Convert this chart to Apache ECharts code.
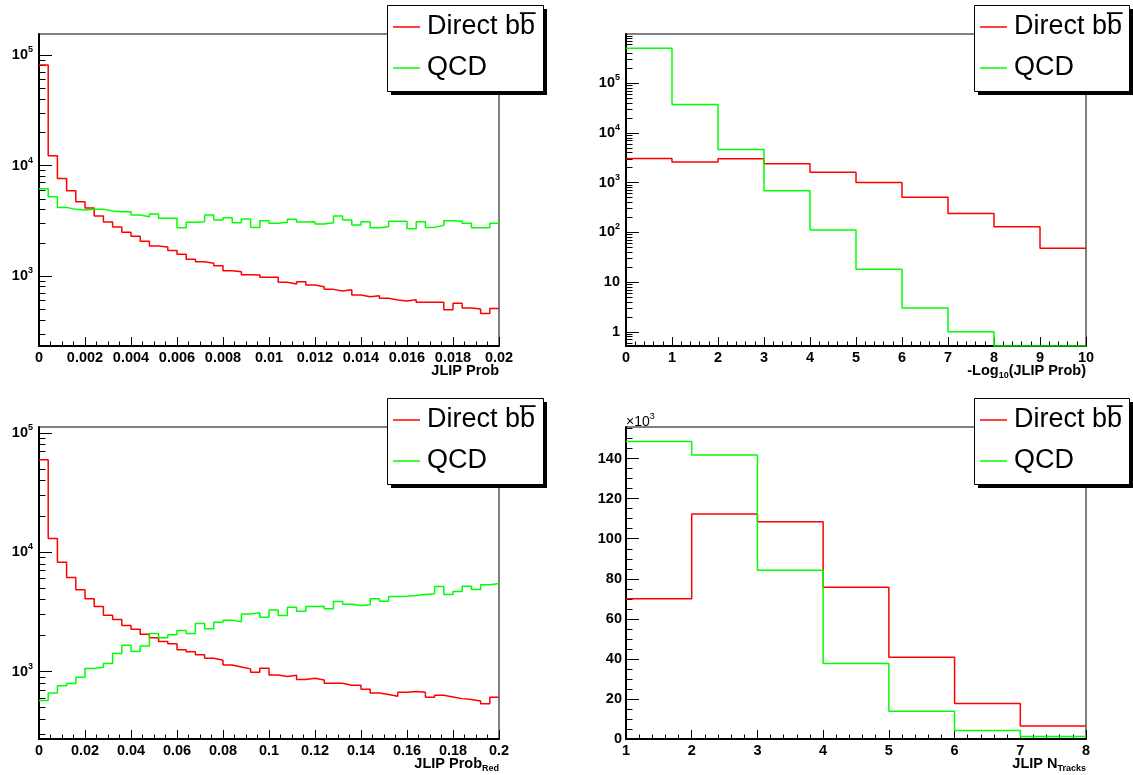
<!DOCTYPE html>
<html><head><meta charset="utf-8">
<script src="https://cdn.jsdelivr.net/npm/echarts@6/dist/echarts.min.js"></script>
<style>html,body{margin:0;padding:0;background:#fff}#c{width:1133px;height:775px}</style>
</head><body><div id="c"></div>
<script>
// ---------- data ----------
const seriesNames = ['Direct b\u0062\u0305', 'QCD'];
const seriesColors = ['#ff0000', '#00ff00'];

// Panel 1: JLIP Prob (50 bins, 0..0.02), log y
const p1XRange = [0, 0.02];
const p1YRange = [232.6, 155000];
const p1Red = [81100,12270,7650,5920,4710,4125,3490,3080,2775,2485,2285,2060,1868,1830,1706,1570,1415,1349,1303,1241,1118,1094,1028,1021,973,973,877,846,889,829,800,757,732,752,673,650,664,628,607,594,611,578,578,580,496,566,513,502,459,509];
const p1Green = [6165,5220,4180,4010,3955,4030,4030,3873,3818,3818,3565,3443,3640,3326,3326,2737,3060,3103,3565,3213,3374,3040,3281,2755,3168,2997,3060,3258,3083,3103,2956,3040,3492,3213,2896,3103,2737,2793,3125,3125,2680,3103,2755,2872,3168,3125,2997,2737,2737,2997];

// Panel 2: -Log10(JLIP Prob) (10 bins, 0..10), log y
const p2XRange = [0, 10];
const p2YRange = [0.517, 980000];
const p2Red = [3055,2618,3013,2388,1622,1006,511,240,129,48];
const p2Green = [506000,37200,4634,684,111,18.2,3,1,0,0];

// Panel 3: JLIP Prob_Red (50 bins, 0..0.2), log y
const p3XRange = [0, 0.2];
const p3YRange = [272, 112200];
const p3Red = [59700,13060,8260,6150,4845,4070,3510,2970,2730,2432,2265,2056,1917,1786,1707,1520,1462,1380,1294,1245,1137,1094,1053,987,1066,937,908,932,857,879,851,798,798,768,768,711,662,641,621,671,679,671,609,633,613,593,582,567,536,609];
const p3Green = [571,662,759,793,896,1060,1087,1167,1416,1663,1472,1641,2084,1917,2031,2208,2084,2530,2281,2594,2698,2612,3030,3105,2856,3273,2952,3467,3207,3510,3533,3357,3866,3672,3580,3626,4070,3892,4260,4285,4342,4427,4485,5169,4427,4688,5200,4875,5337,5470];

// Panel 4: JLIP N_Tracks (7 bins, 1..8), linear y (x10^3)
const p4XRange = [1, 8];
const p4YRange = [0, 155800];
const p4YLabels = [0,20000,40000,60000,80000,100000,120000,140000];
const p4YMinor = [5000,10000,15000,25000,30000,35000,45000,50000,55000,65000,70000,75000,85000,90000,95000,105000,110000,115000,125000,130000,135000,145000,150000,155000];
const p4Red = [70000,112300,108500,75800,40800,17700,6500];
const p4Green = [148500,141800,84300,37700,13800,4300,1200];

const xTitles = [
  '{m|JLIP Prob}',
  '{m|-Log}{u|10}{m|(JLIP Prob)}',
  '{m|JLIP Prob}{u|Red}',
  '{m|JLIP N}{u|Tracks}'
];

// ---------- layout ----------
const FONT = 'Liberation Sans, Arial, sans-serif';
const LFS = 14.5;
const grids = [
  {left: 39, top: 34, width: 460, height: 312},
  {left: 626, top: 34, width: 460, height: 312},
  {left: 39, top: 427, width: 460, height: 312},
  {left: 626, top: 427, width: 460, height: 312}
];
const legendBoxes = [
  {x: 387, y: 5, w: 156, h: 86},
  {x: 974, y: 5, w: 155, h: 86},
  {x: 387, y: 398, w: 156, h: 86},
  {x: 974, y: 398, w: 155, h: 86}
];

function stepData(range, vals, logY, lo) {
  const n = vals.length, w = (range[1] - range[0]) / n;
  const tf = v => logY ? Math.log10(Math.max(v, lo)) : v;
  const pts = [];
  for (let i = 0; i < n; i++) pts.push([range[0] + i * w, tf(vals[i])]);
  pts.push([range[1], tf(vals[n - 1])]);
  return pts;
}

const richMain = {
  b: {fontSize: LFS, fontWeight: 'bold', fontFamily: FONT, color: '#000', lineHeight: 20},
  s: {fontSize: 9, fontWeight: 'bold', fontFamily: FONT, color: '#000', lineHeight: 9, verticalAlign: 'top'}
};

function logAxes(gi, range) {
  const lo = Math.log10(range[0]), hi = Math.log10(range[1]);
  const majors = [], minors = [];
  for (let k = Math.floor(lo) - 1; k <= Math.ceil(hi); k++) {
    if (k >= lo - 1e-9 && k <= hi + 1e-9) majors.push(k);
    for (let m = 2; m <= 9; m++) {
      const v = k + Math.log10(m);
      if (v > lo && v < hi) minors.push(v);
    }
  }
  const fmt = v => {
    const n = Math.round(v);
    if (n === 0) return '1';
    if (n === 1) return '10';
    return '{b|10}{s|' + n + '}';
  };
  return [{
    type: 'value', gridIndex: gi, position: 'left', min: lo, max: hi,
    axisLine: {show: true, lineStyle: {color: '#000', width: 2}},
    axisTick: {show: true, inside: true, length: 13, customValues: majors, lineStyle: {color: '#000', width: 1}},
    axisLabel: {show: true, customValues: majors, formatter: fmt, margin: 6, color: '#000',
      fontSize: LFS, fontWeight: 'bold', fontFamily: FONT, rich: richMain},
    splitLine: {show: false}
  }, {
    type: 'value', gridIndex: gi, position: 'left', min: lo, max: hi,
    axisLine: {show: false},
    axisTick: {show: true, inside: true, length: 6.5, customValues: minors, lineStyle: {color: '#000', width: 1}},
    axisLabel: {show: false},
    splitLine: {show: false}
  }];
}

function linAxes(gi, range, labels, minor) {
  return [{
    type: 'value', gridIndex: gi, position: 'left', min: range[0], max: range[1],
    name: '{a|\u00d710}{s|3}', nameLocation: 'end', nameGap: 5,
    nameTextStyle: {align: 'left', verticalAlign: 'middle',
      rich: {a: {fontSize: 14, fontFamily: FONT, color: '#000', lineHeight: 20},
             s: {fontSize: 9, fontFamily: FONT, color: '#000', lineHeight: 9, verticalAlign: 'top'}}},
    axisLine: {show: true, lineStyle: {color: '#000', width: 2}},
    axisTick: {show: true, inside: true, length: 13, customValues: labels, lineStyle: {color: '#000', width: 1}},
    axisLabel: {show: true, customValues: labels, formatter: v => String(Math.round(v / 1000)), margin: 4,
      color: '#000', fontSize: LFS, fontWeight: 'bold', fontFamily: FONT},
    splitLine: {show: false}
  }, {
    type: 'value', gridIndex: gi, position: 'left', min: range[0], max: range[1],
    axisLine: {show: false},
    axisTick: {show: true, inside: true, length: 6.5, customValues: minor, lineStyle: {color: '#000', width: 1}},
    axisLabel: {show: false},
    splitLine: {show: false}
  }];
}

function xAxis(gi, range, interval, minorSplit, digits) {
  return {
    type: 'value', gridIndex: gi, min: range[0], max: range[1], interval: interval,
    axisLine: {show: true, onZero: false, lineStyle: {color: '#000', width: 2}},
    axisTick: {show: true, inside: true, length: 9, lineStyle: {color: '#000', width: 1}},
    minorTick: {show: true, splitNumber: minorSplit, length: 4.5, lineStyle: {color: '#000', width: 1}},
    axisLabel: {show: true, margin: 4, color: '#000', fontSize: LFS, fontWeight: 'bold', fontFamily: FONT,
      formatter: v => String(parseFloat(v.toFixed(digits)))},
    splitLine: {show: false}, minorSplitLine: {show: false}
  };
}

const yAxes = [].concat(
  logAxes(0, p1YRange),
  logAxes(1, p2YRange),
  logAxes(2, p3YRange),
  linAxes(3, p4YRange, p4YLabels, p4YMinor)
);
const xAxes = [
  xAxis(0, p1XRange, 0.002, 4, 4),
  xAxis(1, p2XRange, 1, 5, 0),
  xAxis(2, p3XRange, 0.02, 4, 3),
  xAxis(3, p4XRange, 1, 5, 0)
];

const panels = [
  {range: p1XRange, y: p1YRange, red: p1Red, green: p1Green, log: true},
  {range: p2XRange, y: p2YRange, red: p2Red, green: p2Green, log: true},
  {range: p3XRange, y: p3YRange, red: p3Red, green: p3Green, log: true},
  {range: p4XRange, y: p4YRange, red: p4Red, green: p4Green, log: false}
];

const series = [];
panels.forEach((p, gi) => {
  [p.red, p.green].forEach((vals, si) => {
    series.push({
      type: 'line', name: seriesNames[si], xAxisIndex: gi, yAxisIndex: gi * 2,
      step: 'end', symbol: 'none', showSymbol: false, animation: false,
      color: seriesColors[si],
      lineStyle: {color: seriesColors[si], width: 1.5},
      data: stepData(p.range, vals, p.log, p.y[0]),
      z: 3 + si
    });
  });
});

const graphic = [];
legendBoxes.forEach(b => {
  graphic.push({type: 'rect', z: 15, shape: {x: b.x + 4, y: b.y + 4, width: b.w, height: b.h}, style: {fill: '#000'}});
  graphic.push({type: 'rect', z: 16, shape: {x: b.x + 0.5, y: b.y + 0.5, width: b.w, height: b.h}, style: {fill: '#fff', stroke: '#000', lineWidth: 1}});
});
const titleRich = {
  m: {fontSize: LFS, fontWeight: 'bold', fontFamily: FONT, fill: '#000', lineHeight: 20},
  u: {fontSize: 9, fontWeight: 'bold', fontFamily: FONT, fill: '#000', lineHeight: 9, verticalAlign: 'bottom'}
};
grids.forEach((g, i) => {
  graphic.push({type: 'text', z: 10, x: g.left + g.width, y: g.top + g.height + 24.5,
    style: {text: xTitles[i], align: 'right', verticalAlign: 'middle', rich: titleRich}});
});

const legends = legendBoxes.map(b => ({
  left: b.x + 6, top: b.y + 7, orient: 'vertical', data: seriesNames, icon: 'rect',
  itemWidth: 27, itemHeight: 1.5, itemGap: 11, padding: 0, selectedMode: false, z: 20,
  textStyle: {fontSize: 27, fontFamily: FONT, color: '#000', lineHeight: 30, padding: [0, 0, 0, 2]}
}));

const chart = echarts.init(document.getElementById('c'), null, {renderer: 'canvas'});
chart.setOption({
  animation: false,
  backgroundColor: '#fff',
  grid: grids.map(g => Object.assign({show: true, borderColor: '#000', borderWidth: 1, containLabel: false, outerBoundsMode: 'none'}, g)),
  xAxis: xAxes,
  yAxis: yAxes,
  legend: legends,
  graphic: graphic,
  series: series
});
</script></body></html>
